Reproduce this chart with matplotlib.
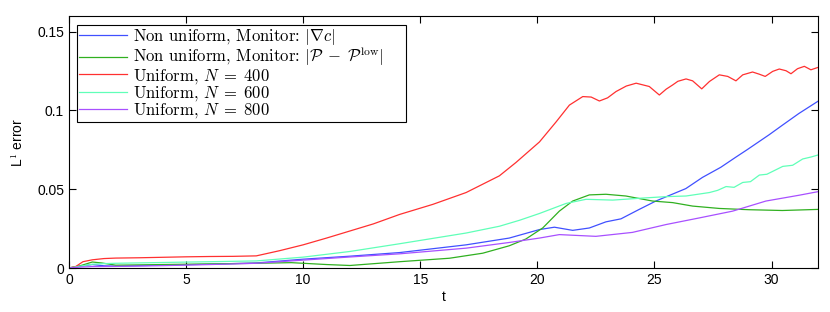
import matplotlib
matplotlib.use("Agg")
import matplotlib.pyplot as plt
import numpy as np

# ---- data ----
t_red = [0, 0.3, 0.6, 1.0, 1.5, 2.0, 3.0, 4.0, 5.0, 6.0, 7.0, 8.0, 9.0, 10.0, 11.0, 12.0, 13.0, 14.12,
         15.54, 16.96, 18.38, 19.09, 20.09, 20.8, 21.37, 21.94, 22.3, 22.65, 23.0, 23.36, 23.8, 24.22, 24.78,
         25.21, 25.5, 25.78, 26.0, 26.35, 26.63, 27.02, 27.35, 27.77, 28.13, 28.48, 28.77, 29.19, 29.48, 29.73,
         30.05, 30.33, 30.62, 30.83, 31.11, 31.4, 31.68, 32.0]
v_red = [0, 0.001, 0.004, 0.0052, 0.006, 0.0063, 0.0065, 0.0068, 0.0071, 0.0073, 0.0074, 0.0077, 0.011, 0.0147,
         0.019, 0.0235, 0.028, 0.034,
         0.0404, 0.0479, 0.0585, 0.067, 0.080, 0.0927, 0.1034, 0.1088, 0.1085, 0.106, 0.108, 0.112, 0.1155, 0.1173,
         0.1152, 0.1098, 0.1135, 0.1162, 0.1185, 0.120, 0.1188, 0.1137, 0.1184, 0.1226, 0.1216, 0.1188, 0.1226,
         0.1244, 0.123, 0.1216, 0.1248, 0.1263, 0.1252, 0.1233, 0.1265, 0.128, 0.1258, 0.1274]

t_blue = [0, 0.5, 1.0, 1.5, 2.0, 4.0, 6.0, 8.0, 10.0, 12.0, 14.12, 16.96, 18.8, 20.09, 20.73, 21.51, 22.22,
          22.93, 23.57, 24.35, 25.06, 26.34, 27.05, 27.83, 28.47, 28.97, 29.9, 30.46, 31.17, 32.0]
v_blue = [0, 0.0012, 0.0022, 0.0014, 0.0012, 0.0018, 0.0024, 0.0032, 0.0056, 0.0075, 0.0098, 0.0147, 0.019,
          0.0244, 0.0259, 0.0239, 0.0254, 0.0293, 0.0312, 0.0372, 0.0425, 0.0504, 0.0575, 0.0639, 0.0703, 0.0752,
          0.0846, 0.0906, 0.0981, 0.106]

t_green = [0, 0.5, 1.0, 1.4, 2.0, 4.0, 6.0, 8.0, 9.5, 11.0, 12.0, 14.12, 16.25, 17.67, 18.8, 19.51, 20.23,
           20.94, 21.51, 22.22, 22.93, 23.78, 24.92, 25.78, 26.63, 27.77, 29.04, 30.46, 32.0]
v_green = [0, 0.0015, 0.0038, 0.0032, 0.0018, 0.0022, 0.0026, 0.003, 0.0034, 0.0022, 0.0016, 0.004, 0.0062,
           0.0094, 0.0141, 0.0184, 0.0254, 0.0361, 0.0425, 0.0464, 0.0468, 0.0457, 0.0425, 0.0415, 0.0393,
           0.0378, 0.037, 0.0365, 0.0372]

t_cyan = [0, 0.5, 1.0, 1.5, 2.0, 4.0, 6.0, 8.0, 10.0, 12.0, 14.12, 16.96, 18.38, 19.24, 20.09, 21.23, 22.08,
          23.22, 24.5, 25.5, 26.35, 27.35, 27.7, 28.06, 28.4, 28.77, 29.1, 29.48, 29.8, 30.48, 30.9, 31.33, 31.7, 32.0]
v_cyan = [0, 0.0012, 0.0024, 0.0028, 0.003, 0.0035, 0.004, 0.0045, 0.0069, 0.0105, 0.0154, 0.0222, 0.0265,
          0.0303, 0.0346, 0.041, 0.0436, 0.0431, 0.0444, 0.0453, 0.0457, 0.0479, 0.0493, 0.0517, 0.0512, 0.0543,
          0.0548, 0.059, 0.0595, 0.0645, 0.0652, 0.0692, 0.0705, 0.0718]

t_purple = [0, 0.5, 1.0, 2.0, 4.0, 6.0, 8.0, 10.0, 12.0, 14.12, 16.96, 18.8, 20.09, 20.94, 22.5, 24.06, 25.5,
            26.92, 28.34, 29.76, 31.18, 32.0]
v_purple = [0, 0.0006, 0.0009, 0.001, 0.0015, 0.0022, 0.003, 0.005, 0.007, 0.009, 0.0126, 0.0162, 0.019,
            0.0212, 0.0201, 0.0226, 0.0276, 0.0318, 0.0361, 0.0425, 0.0462, 0.0485]

labels = [r"Non uniform, Monitor: $|\nabla c|$",
          r"Non uniform, Monitor: $|\mathcal{P}\;-\;\mathcal{P}^{\mathrm{low}}|$",
          r"Uniform, $N\;=\;400$",
          r"Uniform, $N\;=\;600$",
          r"Uniform, $N\;=\;800$"]
colors = ["#4050ff", "#30b020", "#ff3030", "#60ffb8", "#a850ff"]

x_ticks = [0, 5, 10, 15, 20, 25, 30]
y_ticks = [0, 0.05, 0.1, 0.15]
y_ticklabels = ["0", "0.05", "0.1", "0.15"]

plt.rcParams["mathtext.fontset"] = "cm"
plt.rcParams["font.family"] = ["Liberation Sans", "DejaVu Sans"]

fig = plt.figure(figsize=(8.3, 3.12), dpi=100)
ax = fig.add_axes([0.083, 0.141, 0.903, 0.808])

series = [(t_blue, v_blue), (t_green, v_green), (t_red, v_red), (t_cyan, v_cyan), (t_purple, v_purple)]
for (tt, vv), c, lab in zip(series, colors, labels):
    ax.plot(tt, vv, color=c, lw=0.9, label=lab)

ax.set_xlim(0, 32)
ax.set_ylim(0, 0.16)
ax.set_xticks(x_ticks)
ax.set_yticks(y_ticks)
ax.set_yticklabels(y_ticklabels)
ax.tick_params(direction="in", top=True, right=True, labelsize=10, length=5, width=0.8)
for s in ax.spines.values():
    s.set_linewidth(0.8)

ax.set_xlabel("t", fontsize=10, labelpad=2)
ax.set_ylabel(r"L$^{\mathsf{1}}$ error", fontsize=10, labelpad=8)

leg = ax.legend(loc="upper left", bbox_to_anchor=(0.0107, 0.3, 0.439, 0.664), mode="expand",
                frameon=True, fancybox=False,
                edgecolor="black", framealpha=1, borderpad=0.1, labelspacing=-0.1,
                handlelength=2.9, handletextpad=0.35, borderaxespad=0.0,
                prop={"family": "cmr10", "size": 12})
leg.get_frame().set_linewidth(0.8)

fig.savefig("out.png", dpi=100)
